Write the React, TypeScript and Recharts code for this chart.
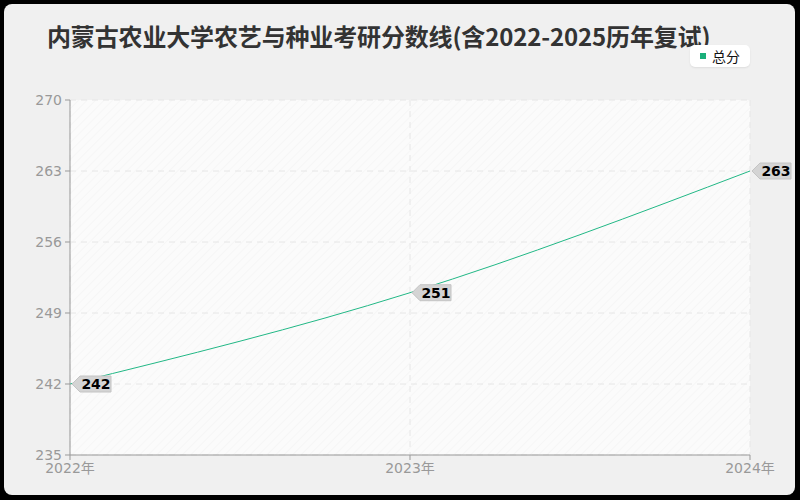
import React from "react";
import { LineChart, Line, XAxis, YAxis, CartesianGrid, LabelList } from "recharts";

const categories = ["2022年", "2023年", "2024年"];
const totalScores = [242, 251, 263];
const yTicks = [235, 242, 249, 256, 263, 270];

const data = categories.map((c, i) => ({ year: c, total: totalScores[i] }));

const LINE_COLOR = "#22b886";
const FONT = "'Noto Sans CJK SC', 'Noto Sans', sans-serif";
const TICK_FONT = "'DejaVu Sans', 'Noto Sans CJK SC', sans-serif";

const TagLabel = (props: any) => {
  const { x, y, value } = props;
  const tx = x + 2;
  const path = `M ${tx} ${y} L ${tx + 8} ${y - 8} L ${tx + 39} ${y - 8} L ${tx + 39} ${y + 8} L ${tx + 8} ${y + 8} Z`;
  return (
    <g>
      <path d={path} fill="#d4d4d4" stroke="#c4c4c4" strokeWidth={1} />
      <text
        x={tx + 24}
        y={y + 5}
        textAnchor="middle"
        fontSize={14}
        fontWeight="bold"
        fill="#000"
        fontFamily={TICK_FONT}
      >
        {value}
      </text>
    </g>
  );
};

export default function App() {
  return (
    <div style={{ width: 800, height: 500, position: "relative", background: "#000", fontFamily: FONT }}>
      <style>{"body{margin:0;}"}</style>
      <div
        style={{
          position: "absolute",
          left: 4,
          top: 4,
          width: 791,
          height: 491,
          background: "#f0f0f0",
          borderRadius: 8,
        }}
      />
      <div
        style={{
          position: "absolute",
          left: 47,
          top: 19,
          fontSize: 24,
          fontWeight: "bold",
          color: "#333",
          whiteSpace: "nowrap",
          letterSpacing: -0.15,
          lineHeight: "34px",
        }}
      >
        内蒙古农业大学农艺与种业考研分数线(含2022-2025历年复试)
      </div>
      <div
        style={{
          position: "absolute",
          left: 690,
          top: 45,
          width: 60,
          height: 22,
          background: "#fff",
          borderRadius: 5,
          boxShadow: "0 1px 2px rgba(0,0,0,0.08)",
          display: "flex",
          alignItems: "center",
          fontSize: 14,
          color: "#111",
        }}
      >
        <span style={{ display: "inline-block", width: 6, height: 6, background: "#1aaf7a", marginLeft: 10, marginRight: 6 }} />
        总分
      </div>
      <div style={{ position: "absolute", left: 0, top: 0 }}>
        <LineChart width={800} height={500} data={data} margin={{ top: 100, right: 50, bottom: 15, left: 20 }}>
          <defs>
            <pattern id="hatch" width="6" height="6" patternUnits="userSpaceOnUse" patternTransform="rotate(45)">
              <rect width="6" height="6" fill="#fbfbfb" />
              <line x1="0" y1="0" x2="0" y2="6" stroke="#f1f1f1" strokeWidth="1" />
            </pattern>
          </defs>
          <CartesianGrid stroke="#e6e6e6" strokeDasharray="6 5" fill="url(#hatch)" fillOpacity={1} />
          <XAxis
            dataKey="year"
            height={30}
            padding={{ left: 0, right: 0 }}
            tick={{ fill: "#999", fontSize: 14, fontFamily: TICK_FONT }}
            tickLine={{ stroke: "#999" }}
            axisLine={{ stroke: "#999" }}
            tickSize={5}
            tickMargin={3}
          />
          <YAxis
            domain={[235, 270]}
            ticks={yTicks}
            width={50}
            tick={{ fill: "#999", fontSize: 14, fontFamily: TICK_FONT }}
            tickLine={{ stroke: "#999" }}
            axisLine={{ stroke: "#999" }}
            tickSize={5}
            tickMargin={3}
          />
          <Line
            type="monotone"
            dataKey="total"
            stroke={LINE_COLOR}
            strokeWidth={1}
            dot={false}
            activeDot={false}
            isAnimationActive={false}
          >
            <LabelList dataKey="total" content={<TagLabel />} />
          </Line>
        </LineChart>
      </div>
    </div>
  );
}
